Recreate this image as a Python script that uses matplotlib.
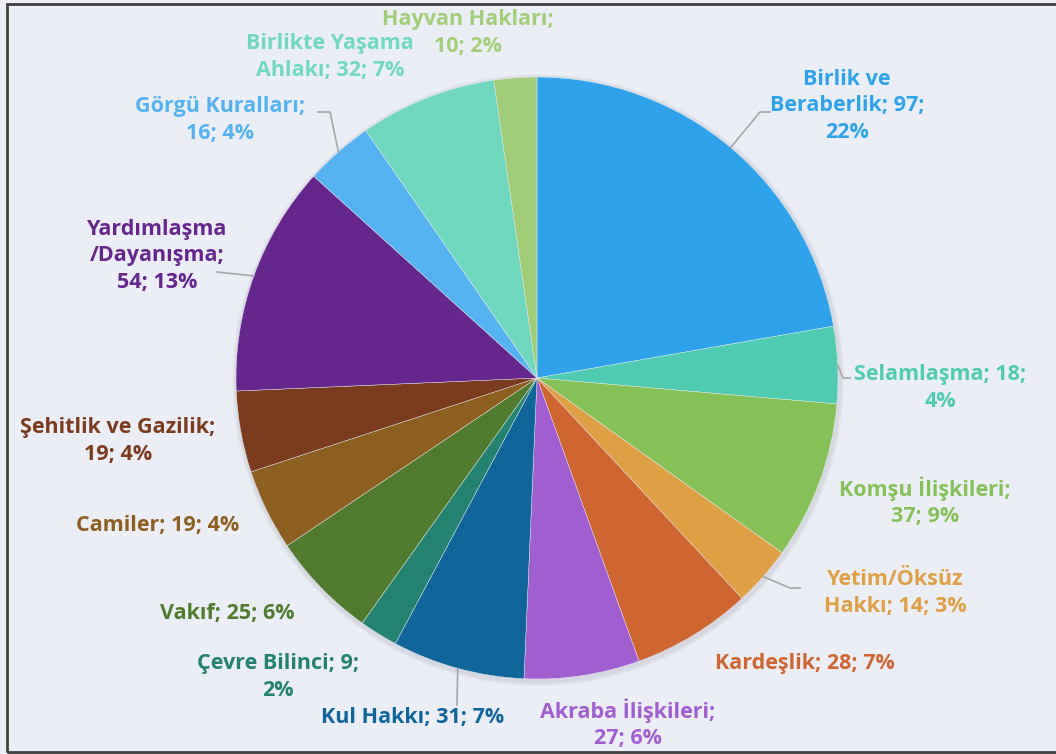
# pie chart of themes: count and share per category
import textwrap
import numpy as np
import matplotlib
matplotlib.use('Agg')
import matplotlib.pyplot as plt
from matplotlib.patches import Circle, Rectangle

# ==============================================================================
# data
categories = ["Birlik ve Beraberlik", "Selamlaşma", "Komşu İlişkileri",
              "Yetim/Öksüz Hakkı", "Kardeşlik", "Akraba İlişkileri",
              "Kul Hakkı", "Çevre Bilinci", "Vakıf", "Camiler",
              "Şehitlik ve Gazilik", "Yardımlaşma/Dayanışma",
              "Görgü Kuralları", "Birlikte Yaşama Ahlakı", "Hayvan Hakları"]
counts = [97, 18, 37, 14, 28, 27, 31, 9, 25, 19, 19, 54, 16, 32, 10]
percents = [22, 4, 9, 3, 7, 6, 7, 2, 6, 4, 4, 13, 4, 7, 2]

colors = ['#2EA3EC', '#4ECBB0', '#86C157', '#DE9F45', '#CF6531', '#A15ED0',
          '#10669B', '#238270', '#507B2E', '#8C5E1F', '#7A3B1E', '#65268D',
          '#55B2F0', '#70D8BE', '#A2CE79']

# ==============================================================================
# layout (pixel coordinates, y measured from top)
W, H = 1056, 754
cx, cy, R = 537, 378, 301
wrapWidth = [15, 15, 17, 13, 40, 18, 40, 17, 40, 40, 20, 11, 16, 15, 15]
labelPos = [(847, 106), (940, 388), (925, 502), (895, 593), (805, 664),
            (628, 724), (413, 717), (278, 677), (227, 613), (158, 525),
            (118, 441), (157, 256), (220, 120), (330, 57), (468, 33)]
# leader lines: slice index -> points after the rim point
leaders = {0: [(760, 112), (770, 112)],
           1: [(843, 378), (850, 378)],
           3: [(790, 588), (800, 588)],
           6: [(457, 705)],
           11: [(217, 272)],
           12: [(330, 112), (318, 112)]}

fontName = 'Open Sans'
fontSize = 15.5

# ==============================================================================
fig = plt.figure(figsize=(W / 100, H / 100), dpi=100)
fig.patch.set_facecolor('#EBEEF5')
ax = fig.add_axes([0, 0, 1, 1])

def fy(y):
    return H - y

# frame
ax.add_patch(Rectangle((7, fy(752)), W, 748, fill=False, edgecolor='#404040',
                       linewidth=2, zorder=0))

# soft shadow under the pie
for k in range(4):
    ax.add_patch(Circle((cx + 1, fy(cy) - 2), R + 5 - k, color='#808090', alpha=0.05,
                        linewidth=0, zorder=1))

ax.pie(counts, colors=colors, startangle=90, counterclock=False,
       center=(cx, fy(cy)), radius=R, frame=True,
       wedgeprops=dict(linewidth=0.3, edgecolor='#EBEEF5', zorder=2))
ax.set_xlim(0, W)
ax.set_ylim(0, H)
ax.set_aspect('equal')
ax.axis('off')

# leader lines, starting on the rim at the slice middle
total = float(sum(counts))
cum = np.cumsum([0] + counts[:-1])
for i, pts in leaders.items():
    ang = 2 * np.pi * (cum[i] + counts[i] / 2.) / total
    x0, y0 = cx + R * np.sin(ang), cy - R * np.cos(ang)
    xs = [x0] + [p[0] for p in pts]
    ys = [fy(y0)] + [fy(p[1]) for p in pts]
    ax.plot(xs, ys, color='#A6A6A6', linewidth=1.2, zorder=3)

# labels
for i, name in enumerate(categories):
    txt = name + '; ' + str(counts[i]) + '; ' + str(percents[i]) + '%'
    txt = '\n'.join(textwrap.wrap(txt, width=wrapWidth[i]))
    x, y = labelPos[i]
    ax.text(x, fy(y), txt, ha='center', va='center', color=colors[i],
            fontsize=fontSize, fontweight='bold', family=[fontName, 'DejaVu Sans'],
            linespacing=1.32, zorder=4)

fig.savefig('out.png', dpi=100, facecolor=fig.get_facecolor())
